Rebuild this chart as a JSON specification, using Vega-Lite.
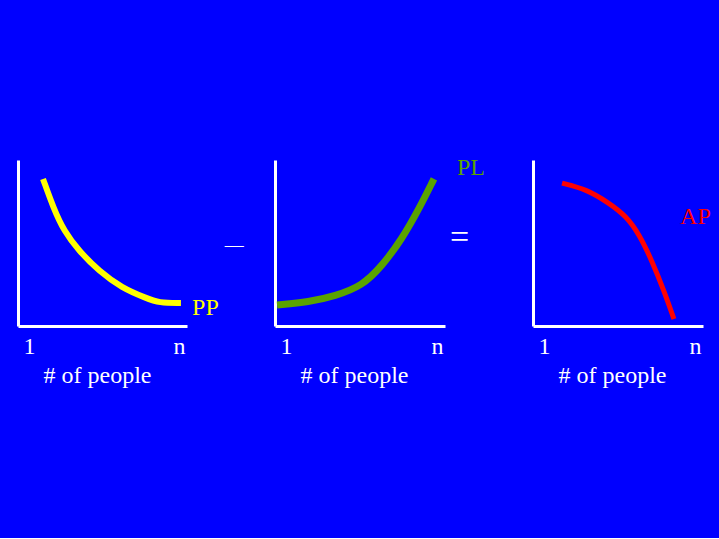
{
  "$schema": "https://vega.github.io/schema/vega-lite/v6.json",
  "background": "#0000ff",
  "padding": {"left": 18, "top": 155, "right": 10, "bottom": 151},
  "spacing": 88,
  "bounds": "flush",
  "config": {
    "view": {"stroke": null},
    "axis": {
      "domainColor": "#ffffff", "domainWidth": 3, "grid": false, "ticks": false, "tickSize": 0,
      "labelFont": "Liberation Serif", "labelFontSize": 24, "labelColor": "#ffffff",
      "titleFont": "Liberation Serif", "titleFontSize": 24, "titleFontWeight": "normal", "titleColor": "#ffffff"
    },
    "text": {"font": "Liberation Serif", "fontSize": 24, "align": "left", "baseline": "middle"}
  },
  "hconcat": [
    {
      "width": 169, "height": 166,
      "layer": [
        {
          "data": {"values": [
            {"x": 0.148, "y": 0.886}, {"x": 0.21, "y": 0.71}, {"x": 0.272, "y": 0.572}, {"x": 0.361, "y": 0.452},
            {"x": 0.479, "y": 0.331}, {"x": 0.615, "y": 0.229}, {"x": 0.757, "y": 0.169},
            {"x": 0.834, "y": 0.139}, {"x": 0.964, "y": 0.139}
          ]},
          "mark": {"type": "line", "color": "#ffff00", "strokeWidth": 6, "interpolate": "basis"},
          "encoding": {
            "x": {"field": "x", "type": "quantitative", "scale": {"domain": [0, 1]},
              "axis": {"values": [0.065, 0.953], "labelExpr": "datum.value < 0.5 ? '1' : 'n'", "labelPadding": 20, "labelBaseline": "middle", "labelAlign": "center", "labelFlush": false, "title": "# of people", "titleX": 79, "titleY": 49, "titleBaseline": "middle", "titleAlign": "center"}},
            "y": {"field": "y", "type": "quantitative", "scale": {"domain": [0, 1]}, "axis": {"labels": false, "title": null}}
          }
        },
        {
          "data": {"values": [{"x": 1.03, "y": 0.108, "label": "PP"}]},
          "mark": {"type": "text", "clip": false, "color": "#ffff00"},
          "encoding": {
            "x": {"field": "x", "type": "quantitative"},
            "y": {"field": "y", "type": "quantitative"},
            "text": {"field": "label"}
          }
        },
        {
          "data": {"values": [{"x": 1.28, "y": 0.49, "label": "—"}]},
          "mark": {"type": "text", "clip": false, "color": "#ffffff", "align": "center", "fontSize": 19},
          "encoding": {
            "x": {"field": "x", "type": "quantitative"},
            "y": {"field": "y", "type": "quantitative"},
            "text": {"field": "label"}
          }
        }
      ]
    },
    {
      "width": 170, "height": 166,
      "layer": [
        {
          "data": {"values": [
            {"x": 0.012, "y": 0.127}, {"x": 0.2, "y": 0.145}, {"x": 0.353, "y": 0.181},
            {"x": 0.512, "y": 0.241}, {"x": 0.629, "y": 0.361}, {"x": 0.747, "y": 0.524},
            {"x": 0.847, "y": 0.705}, {"x": 0.935, "y": 0.886}
          ]},
          "mark": {"type": "line", "color": "#5aa300", "strokeWidth": 7, "interpolate": "basis"},
          "encoding": {
            "x": {"field": "x", "type": "quantitative", "scale": {"domain": [0, 1]},
              "axis": {"values": [0.065, 0.953], "labelExpr": "datum.value < 0.5 ? '1' : 'n'", "labelPadding": 20, "labelBaseline": "middle", "labelAlign": "center", "labelFlush": false, "title": "# of people", "titleX": 79, "titleY": 49, "titleBaseline": "middle", "titleAlign": "center"}},
            "y": {"field": "y", "type": "quantitative", "scale": {"domain": [0, 1]}, "axis": {"labels": false, "title": null}}
          }
        },
        {
          "data": {"values": [{"x": 1.07, "y": 0.952, "label": "PL"}]},
          "mark": {"type": "text", "clip": false, "color": "#5aa300"},
          "encoding": {
            "x": {"field": "x", "type": "quantitative"},
            "y": {"field": "y", "type": "quantitative"},
            "text": {"field": "label"}
          }
        },
        {
          "data": {"values": [{"x": 1.03, "y": 0.53, "label": "="}]},
          "mark": {"type": "text", "clip": false, "color": "#ffffff", "fontSize": 34},
          "encoding": {
            "x": {"field": "x", "type": "quantitative"},
            "y": {"field": "y", "type": "quantitative"},
            "text": {"field": "label"}
          }
        }
      ]
    },
    {
      "width": 170, "height": 166,
      "layer": [
        {
          "data": {"values": [
            {"x": 0.171, "y": 0.861}, {"x": 0.312, "y": 0.825}, {"x": 0.447, "y": 0.741},
            {"x": 0.547, "y": 0.663}, {"x": 0.624, "y": 0.554}, {"x": 0.7, "y": 0.392},
            {"x": 0.771, "y": 0.211}, {"x": 0.829, "y": 0.042}
          ]},
          "mark": {"type": "line", "color": "#ff0000", "strokeWidth": 5, "interpolate": "basis"},
          "encoding": {
            "x": {"field": "x", "type": "quantitative", "scale": {"domain": [0, 1]},
              "axis": {"values": [0.065, 0.953], "labelExpr": "datum.value < 0.5 ? '1' : 'n'", "labelPadding": 20, "labelBaseline": "middle", "labelAlign": "center", "labelFlush": false, "title": "# of people", "titleX": 79, "titleY": 49, "titleBaseline": "middle", "titleAlign": "center"}},
            "y": {"field": "y", "type": "quantitative", "scale": {"domain": [0, 1]}, "axis": {"labels": false, "title": null}}
          }
        },
        {
          "data": {"values": [{"x": 0.865, "y": 0.657, "label": "AP"}]},
          "mark": {"type": "text", "clip": false, "color": "#ff0000"},
          "encoding": {
            "x": {"field": "x", "type": "quantitative"},
            "y": {"field": "y", "type": "quantitative"},
            "text": {"field": "label"}
          }
        }
      ]
    }
  ]
}
